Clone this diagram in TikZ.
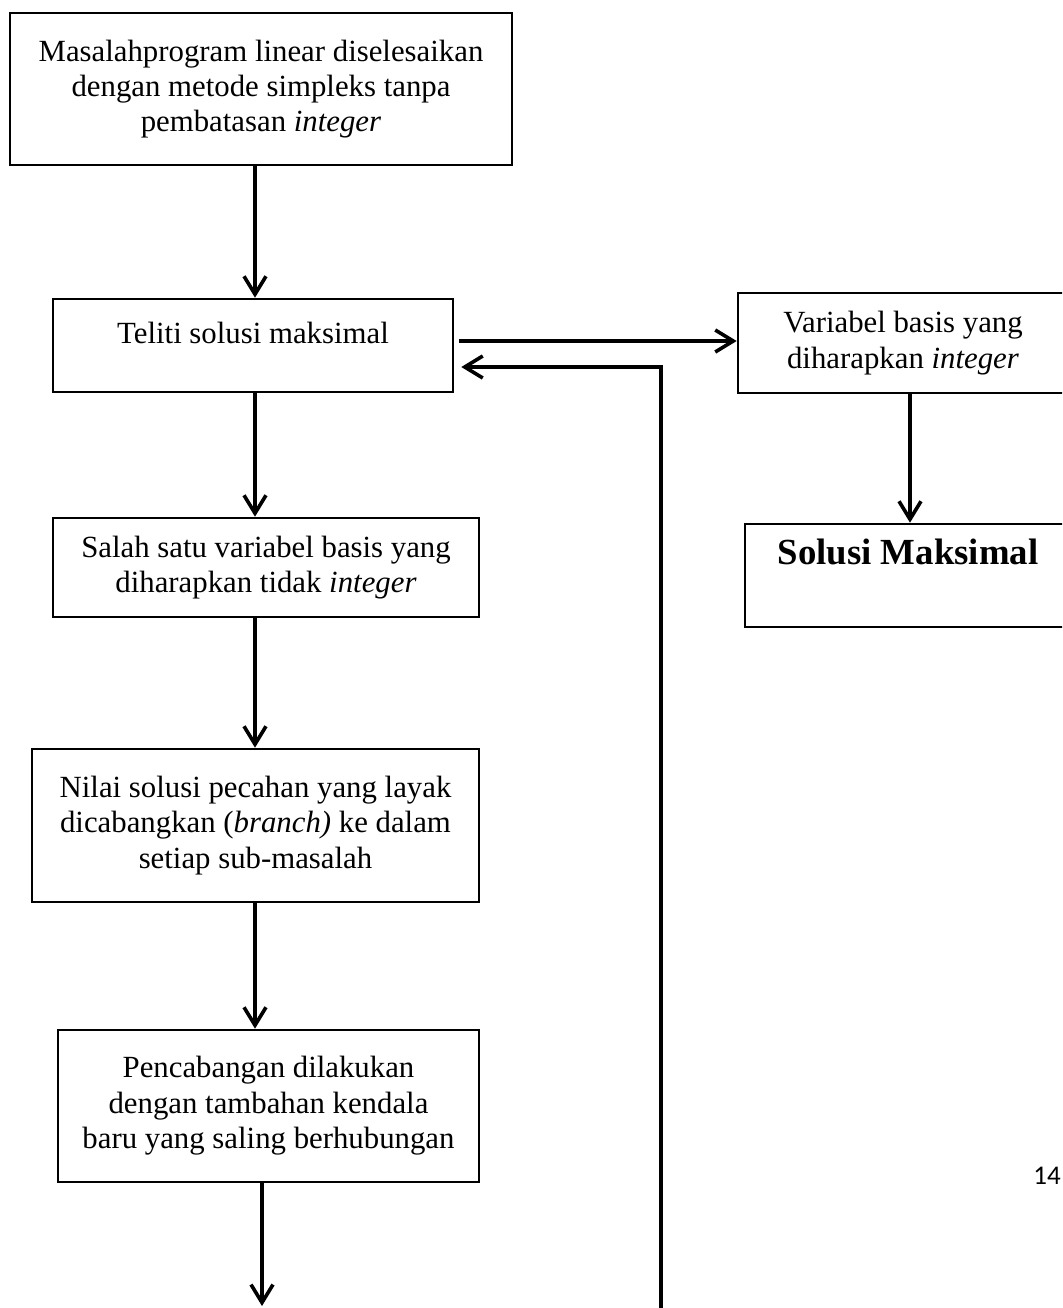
\documentclass[tikz,border=0pt]{standalone}
\usepackage{fontspec}
\setmainfont{Liberation Serif}
\newfontfamily\calibri{Carlito}
\usetikzlibrary{calc}
\usetikzlibrary{arrows.meta}

\begin{document}
\begin{tikzpicture}[
    	x=0.5pt, y=-0.5pt,
    	kotak/.style={draw, line width=1.3pt, align=center, inner sep=0pt,
    	  font=\fontsize{15.4}{17.7}\selectfont},
    	-->/.style={-{Straight Barb[length=9pt,width=11pt,line width=1.8pt]},line width=1.8pt},
    ]
    \useasboundingbox (0,0) rectangle (1062,1308);
    \clip (0,0) rectangle (1062,1308);
    % kolom kiri
    \node[kotak, minimum width=251pt, minimum height=76pt] (mulai) at (261,89)
      {Masalahprogram linear diselesaikan\\dengan metode simpleks tanpa\\pembatasan \textit{integer}};
    \node[kotak, minimum width=200pt, minimum height=46.5pt, text depth=13pt] (teliti) at (253,345.5)
      {Teliti solusi maksimal};
    \node[kotak, minimum width=213pt, minimum height=49.5pt] (salah) at (266,567.5)
      {Salah satu variabel basis yang\\diharapkan tidak \textit{integer}};
    \node[kotak, minimum width=223.5pt, minimum height=76.5pt] (nilai) at (255.5,825.5)
      {Nilai solusi pecahan yang layak\\dicabangkan (\textit{branch)} ke dalam\\setiap sub-masalah};
    \node[kotak, minimum width=210.5pt, minimum height=76pt] (cabang) at (268.5,1106)
      {Pencabangan dilakukan\\dengan tambahan kendala\\baru yang saling berhubungan};
    % kolom kanan
    \node[kotak, minimum width=165pt, minimum height=50pt] (variabel) at (903,343)
      {Variabel basis yang\\diharapkan \textit{integer}};
    \node[kotak, minimum width=163pt, minimum height=51.5pt, text depth=24pt,
      font=\fontsize{18.4}{21}\selectfont\bfseries] (solusi) at (908,575.5)
      {Solusi Maksimal};
    \node[anchor=west, inner sep=0pt, font=\calibri\fontsize{13.5}{16}\selectfont] (hal) at (1033,1176) {14};
    % titik bantu
    \coordinate (xa) at (255,0);
    \coordinate (xb) at (910,0);
    \coordinate (ya) at (0,341);
    \coordinate (bawah) at (262,1306);
    \coordinate (balik) at (661,1320);
    % panah
    \draw[-->] (mulai.south -| xa) -- (teliti.north -| xa);
    \draw[-->] (teliti.south -| xa) -- (salah.north -| xa);
    \draw[-->] (salah.south -| xa) -- (nilai.north -| xa);
    \draw[-->] (nilai.south -| xa) -- (cabang.north -| xa);
    \draw[-->] (cabang.south -| bawah) -- (bawah);
    \draw[-->] ($(teliti.east |- ya)+(5,0)$) -- (variabel.west |- ya);
    \draw[-->] (variabel.south -| xb) -- (solusi.north -| xb);
    \draw[-->] (balik) |- ($(teliti.east)+(7,21.5)$);
\end{tikzpicture}
\end{document}
